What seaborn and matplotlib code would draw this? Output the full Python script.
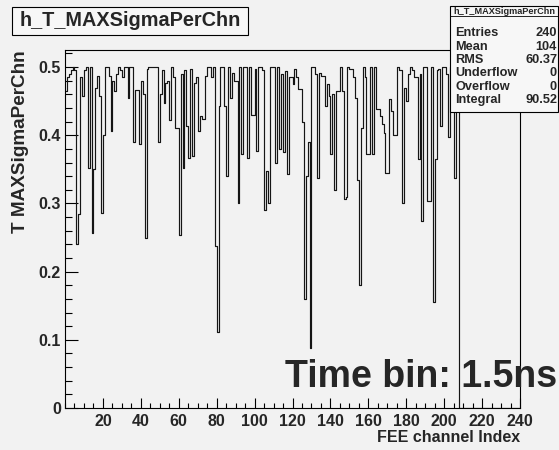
import numpy as np
import pandas as pd
import matplotlib
matplotlib.use("Agg")
import matplotlib.pyplot as plt
import seaborn as sns
from matplotlib.ticker import MultipleLocator, FixedLocator, FuncFormatter
from matplotlib.patches import Rectangle
from matplotlib.lines import Line2D

# ---------------- data ----------------
channel_values = [
    0.465, 0.485, 0.49, 0.495, 0.5, 0.495, 0.24, 0.284, 0.485, 0.458,
    0.495, 0.5, 0.352, 0.5, 0.257, 0.35, 0.47, 0.487, 0.458, 0.286,
    0.4, 0.5, 0.5, 0.487, 0.406, 0.48, 0.465, 0.49, 0.5, 0.495,
    0.485, 0.5, 0.5, 0.455, 0.5, 0.5, 0.39, 0.467, 0.467, 0.387,
    0.48, 0.46, 0.25, 0.497, 0.5, 0.5, 0.5, 0.5, 0.5, 0.39,
    0.46, 0.495, 0.448, 0.476, 0.48, 0.422, 0.5, 0.485, 0.41, 0.41,
    0.254, 0.49, 0.352, 0.496, 0.414, 0.367, 0.497, 0.37, 0.477, 0.485,
    0.406, 0.428, 0.424, 0.424, 0.487, 0.5, 0.5, 0.485, 0.5, 0.237,
    0.112, 0.443, 0.5, 0.5, 0.443, 0.34, 0.5, 0.455, 0.492, 0.48,
    0.48, 0.3, 0.5, 0.372, 0.5, 0.5, 0.367, 0.5, 0.43, 0.43,
    0.497, 0.377, 0.5, 0.5, 0.495, 0.29, 0.347, 0.3, 0.5, 0.5,
    0.5, 0.36, 0.5, 0.38, 0.49, 0.375, 0.494, 0.343, 0.485, 0.485,
    0.475, 0.497, 0.485, 0.468, 0.468, 0.42, 0.16, 0.34, 0.39, 0.088,
    0.5, 0.5, 0.49, 0.338, 0.492, 0.487, 0.487, 0.443, 0.475, 0.458,
    0.372, 0.46, 0.32, 0.465, 0.465, 0.5, 0.465, 0.306, 0.31, 0.5,
    0.497, 0.497, 0.485, 0.455, 0.335, 0.18, 0.41, 0.5, 0.485, 0.372,
    0.372, 0.5, 0.372, 0.5, 0.438, 0.438, 0.428, 0.416, 0.404, 0.345,
    0.345, 0.453, 0.436, 0.4, 0.4, 0.5, 0.495, 0.495, 0.3, 0.47,
    0.45, 0.49, 0.5, 0.495, 0.485, 0.485, 0.365, 0.49, 0.274, 0.5,
    0.5, 0.303, 0.303, 0.5, 0.156, 0.365, 0.495, 0.497, 0.414, 0.5,
    0.5, 0.49, 0.397, 0.5, 0.5, 0.338, 0.48, 0.48,
]
channels = list(range(len(channel_values)))
n_bins = 240
x_range = (0, 240)
x_tick_values = [20, 40, 60, 80, 100, 120, 140, 160, 180, 200, 220, 240]
y_tick_values = [0, 0.1, 0.2, 0.3, 0.4, 0.5]
hist_name = "h_T_MAXSigmaPerChn"
stats_labels = ["Entries", "Mean", "RMS", "Underflow", "Overflow", "Integral"]
stats_values = ["240", "104", "60.37", "0", "0", "90.52"]
x_title = "FEE channel Index"
y_title = "T MAXSigmaPerChn"
note_text = "Time bin: 1.5ns"

# ---------------- style ----------------
sns.set_theme(style="white")
plt.rcParams['font.family'] = ['Liberation Sans', 'DejaVu Sans']
BG = "#f2f2f2"
W, H = 559, 450

fig = plt.figure(figsize=(W / 100, H / 100), dpi=100, facecolor=BG)
ax = fig.add_axes([65 / W, 1 - 408 / H, 455 / W, 358 / H])
ax.set_facecolor(BG)

df = pd.DataFrame({"channel": np.array(channels) + 0.5, "value": channel_values})
sns.histplot(data=df, x="channel", weights="value", bins=n_bins, binrange=x_range,
             element="step", fill=False, color="#151515", linewidth=0.85, ax=ax)

ax.set_xlim(*x_range)
ax.set_ylim(0, 0.525)

for s in ax.spines.values():
    s.set_visible(True)
    s.set_color("black")
    s.set_linewidth(0.8)

ax.xaxis.set_major_locator(FixedLocator(x_tick_values))
ax.xaxis.set_minor_locator(MultipleLocator(5))
ax.yaxis.set_major_locator(FixedLocator(y_tick_values))
ax.yaxis.set_minor_locator(MultipleLocator(0.02))
ax.yaxis.set_major_formatter(FuncFormatter(lambda v, p: f"{v:g}"))

ax.tick_params(axis="both", which="both", direction="in", top=False, right=False,
               bottom=True, left=True, color="black", width=0.8)
ax.tick_params(axis="x", which="major", length=7.5, pad=4, labelsize=11.5)
ax.tick_params(axis="x", which="minor", length=3.8)
ax.tick_params(axis="y", which="major", length=9.4, pad=3, labelsize=11.5)
ax.tick_params(axis="y", which="minor", length=5.0)
for lab in ax.get_xticklabels() + ax.get_yticklabels():
    lab.set_fontweight("bold")

ax.set_xlabel(x_title, fontsize=11.5, fontweight="bold", loc="right")
ax.xaxis.set_label_coords(1.0, -(430 - 408) / 358)
ax.set_ylabel(y_title, fontsize=13.6, fontweight="bold", loc="top")
ax.yaxis.set_label_coords(-(65 - 29) / 455, 1.0)

# big annotation
fig.text(285 / W, 1 - 387 / H, note_text, fontsize=27, fontweight="bold",
         ha="left", va="baseline")

# title box
fig.add_artist(Rectangle((12 / W, 1 - 35 / H), 236 / W, 28 / H, transform=fig.transFigure,
                         facecolor="#f7f7f7", edgecolor="black", linewidth=0.8))
fig.text(130 / W, 1 - 21 / H, hist_name, fontsize=14.3, fontweight="bold",
         ha="center", va="center")

# stats box
fig.add_artist(Rectangle((450 / W, 1 - 112 / H), 108 / W, 106 / H, transform=fig.transFigure,
                         facecolor="#f7f7f7", edgecolor="black", linewidth=0.8))
fig.add_artist(Line2D([450 / W, 558 / W], [1 - 16 / H, 1 - 16 / H], transform=fig.transFigure,
                      color="black", linewidth=0.6))
fig.text(504 / W, 1 - 11 / H, hist_name, fontsize=6.6, fontweight="bold",
         ha="center", va="center")
row_y = [33, 47, 60, 73, 87, 100]
for lab, val, yy in zip(stats_labels, stats_values, row_y):
    fig.text(455 / W, 1 - yy / H, lab, fontsize=9.2, fontweight="bold", ha="left", va="center")
    fig.text(557 / W, 1 - yy / H, val, fontsize=9.2, fontweight="bold", ha="right", va="center")

fig.savefig("out.png", dpi=100, facecolor=BG)
